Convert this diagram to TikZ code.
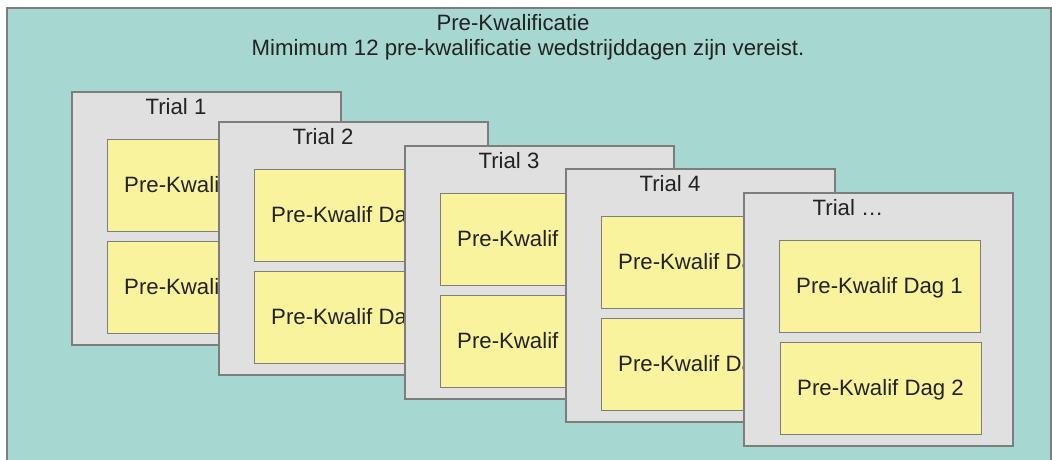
\documentclass[tikz,border=0pt]{standalone}
\usepackage{fontspec}
\setmainfont{Liberation Sans}
\definecolor{kwalteal}{RGB}{166,216,209}
\definecolor{trialgray}{RGB}{224,224,224}
\definecolor{dagyellow}{RGB}{250,243,157}
\definecolor{rimgray}{RGB}{125,125,125}
\definecolor{inkgray}{RGB}{34,34,34}
\tikzset{
	kwalframe/.style={draw=rimgray, fill=kwalteal, line width=1.5pt, anchor=north west, minimum width=1044pt, minimum height=460pt, inner sep=0pt, outer sep=0pt},
	trialbox/.style={draw=rimgray, fill=trialgray, line width=1.2pt, anchor=north west, minimum width=269pt, minimum height=253pt, inner sep=0pt, outer sep=0pt},
	dagbox/.style={draw=rimgray, fill=dagyellow, line width=1pt, anchor=north west, minimum width=201pt, minimum height=92pt, inner sep=0pt, outer sep=0pt, text=inkgray, text height=15.8pt, text depth=0pt},
	tekst/.style={text=inkgray, inner sep=0pt, text height=15.8pt, text depth=0pt},
}

\begin{document}
\fontsize{22.2}{26}\selectfont
\begin{tikzpicture}[x=1pt,y=-1pt]
		\useasboundingbox (0,0) rectangle (1052,460);
		% outer frame
		\node[kwalframe] (prekwal) at (7,8) {};
		\node[tekst] (titel) at (513,23) {Pre-Kwalificatie};
		\node[tekst] (eis) at (528,47.5) {Mimimum 12 pre-kwalificatie wedstrijddagen zijn vereist.};
		% trial 1
		\node[trialbox] (trial1) at (72,92) {};
		\node[tekst] (label1) at (176,106.5) {Trial 1};
		\node[dagbox] (dag1a) at (107,139) {Pre-Kwalif Dag 1};
		\node[dagbox] (dag1b) at (107,241) {Pre-Kwalif Dag 2};
		% trial 2
		\node[trialbox] (trial2) at (219,122) {};
		\node[tekst] (label2) at (323,136.5) {Trial 2};
		\node[dagbox] (dag2a) at (254,169) {Pre-Kwalif Dag 1};
		\node[dagbox] (dag2b) at (254,271) {Pre-Kwalif Dag 2};
		% trial 3
		\node[trialbox] (trial3) at (405,146) {};
		\node[tekst] (label3) at (509,160.5) {Trial 3};
		\node[dagbox] (dag3a) at (440,193) {Pre-Kwalif Dag 1};
		\node[dagbox] (dag3b) at (440,295) {Pre-Kwalif Dag 2};
		% trial 4
		\node[trialbox] (trial4) at (566,169) {};
		\node[tekst] (label4) at (670,183.5) {Trial 4};
		\node[dagbox] (dag4a) at (601,216) {Pre-Kwalif Dag 1};
		\node[dagbox] (dag4b) at (601,318) {Pre-Kwalif Dag 2};
		% trial ...
		\node[trialbox] (trial5) at (744,193) {};
		\node[tekst] (label5) at (848,207.5) {Trial \dots};
		\node[dagbox] (dag5a) at (779,240) {Pre-Kwalif Dag 1};
		\node[dagbox] (dag5b) at (780,342) {Pre-Kwalif Dag 2};
	\end{tikzpicture}
\end{document}
